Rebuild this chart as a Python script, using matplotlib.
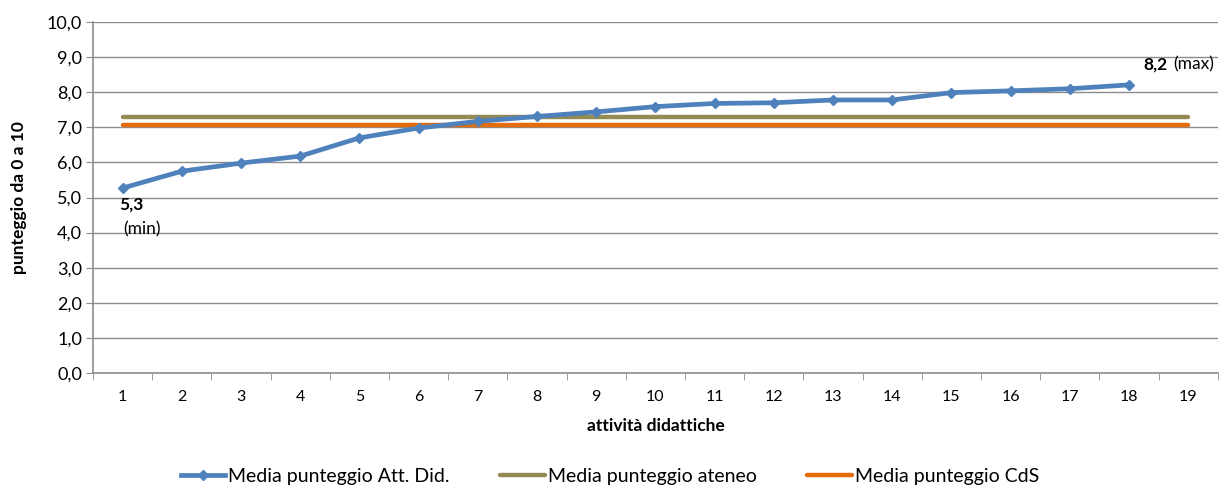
import matplotlib

matplotlib.use("Agg")
import matplotlib.pyplot as plt
from matplotlib.ticker import FixedLocator, FuncFormatter

plt.rcParams["font.family"] = ["Lato", "DejaVu Sans"]

# data
attivita = list(range(1, 20))
punteggio_att = [5.27, 5.75, 5.98, 6.18, 6.70, 6.98, 7.17, 7.31, 7.44, 7.59,
                 7.68, 7.70, 7.78, 7.78, 7.99, 8.04, 8.10, 8.21]
media_ateneo = [7.30] * len(attivita)
media_cds = [7.08] * len(attivita)

BLUE = "#4F81BD"
OLIVE = "#948A54"
ORANGE = "#E46C0A"
GRID = "#8C8C8C"

fig = plt.figure(figsize=(12.32, 4.9), dpi=100)
ax = fig.add_axes([0.0755, 0.2388, 0.913, 0.7162])

ax.plot(attivita, media_ateneo, color=OLIVE, lw=3.2, solid_capstyle="round",
        label="Media punteggio ateneo", zorder=3)
ax.plot(attivita, media_cds, color=ORANGE, lw=3.2, solid_capstyle="round",
        label="Media punteggio CdS", zorder=3)
ax.plot(attivita[:len(punteggio_att)], punteggio_att, color=BLUE, lw=3.4,
        marker="D", ms=5.5, label="Media punteggio Att. Did.", zorder=4)

ax.set_xlim(0.5, 19.5)
ax.set_ylim(0, 10)
ax.set_yticks([i for i in range(11)])
ax.yaxis.set_major_formatter(FuncFormatter(lambda v, _: f"{v:.1f}".replace(".", ",")))
ax.set_xticks(attivita)
ax.xaxis.set_minor_locator(FixedLocator([i + 0.5 for i in range(0, 20)]))
ax.tick_params(axis="x", which="major", length=0, pad=12, labelsize=11.5)
ax.tick_params(axis="x", which="minor", length=5, color=GRID, direction="out")
ax.tick_params(axis="y", length=5, color=GRID, labelsize=13, pad=3)
ax.grid(axis="y", color=GRID, lw=1)
ax.set_axisbelow(True)
for side in ("top", "right"):
    ax.spines[side].set_visible(False)
for side in ("left", "bottom"):
    ax.spines[side].set_color(GRID)
    ax.spines[side].set_linewidth(1.2)

ax.set_xlabel("attività didattiche", fontsize=12.5, fontweight="bold", labelpad=10)
ax.set_ylabel("punteggio da 0 a 10", fontsize=12.5, fontweight="bold", labelpad=14)

# min / max annotations
ax.annotate("5,3", (attivita[0], punteggio_att[0]), xytext=(6, -12),
            textcoords="offset points", ha="center", va="center",
            fontsize=12.5, fontweight="bold")
ax.annotate("(min)", (attivita[0], punteggio_att[0]), xytext=(14, -30),
            textcoords="offset points", ha="center", va="center", fontsize=12.5)
i_max = len(punteggio_att) - 1
ax.annotate("8,2", (attivita[i_max], punteggio_att[i_max]), xytext=(10, 15),
            textcoords="offset points", ha="left", va="center",
            fontsize=12.5, fontweight="bold")
ax.annotate("(max)", (attivita[i_max], punteggio_att[i_max]), xytext=(32, 15),
            textcoords="offset points", ha="left", va="center", fontsize=12.5)

handles, labels = ax.get_legend_handles_labels()
order = [2, 0, 1]
fig.legend([handles[i] for i in order], [labels[i] for i in order],
           loc="center", bbox_to_anchor=(0.495, 0.028), ncol=3, frameon=False,
           fontsize=14, handlelength=2.3, handletextpad=0.15, columnspacing=2.6,
           borderpad=0, markerscale=1)

fig.savefig("out.png", dpi=100)
